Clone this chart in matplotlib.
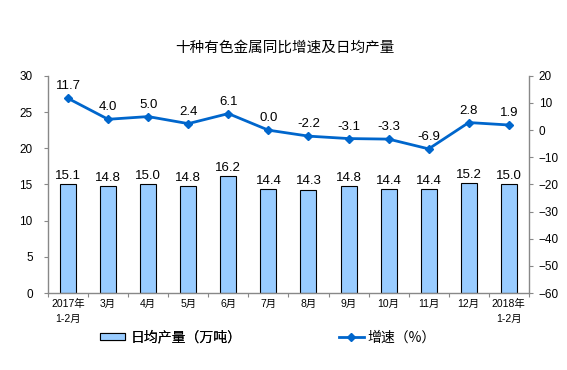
import matplotlib
matplotlib.use('Agg')
import matplotlib.pyplot as plt
import numpy as np

plt.rcParams['font.family'] = ['Liberation Sans', 'Noto Sans CJK SC', 'DejaVu Sans']

# data
months = ['2017年\n1-2月', '3月', '4月', '5月', '6月', '7月', '8月', '9月',
          '10月', '11月', '12月', '2018年\n1-2月']
daily_output = [15.1, 14.8, 15.0, 14.8, 16.2, 14.4, 14.3, 14.8, 14.4, 14.4, 15.2, 15.0]
growth = [11.7, 4.0, 5.0, 2.4, 6.1, 0.0, -2.2, -3.1, -3.3, -6.9, 2.8, 1.9]

bar_color = '#99CCFF'
line_color = '#0066CC'
cjk = ['Noto Sans CJK SC', 'DejaVu Sans']

fig = plt.figure(figsize=(5.67, 3.70), dpi=100)
ax = fig.add_axes([0.0847, 0.208, 0.848, 0.587])
ax2 = ax.twinx()

x = np.arange(len(months))

# bars for daily output
bars = ax.bar(x, daily_output, width=0.4, color=bar_color, edgecolor='black',
              linewidth=0.8, label='日均产量（万吨）', zorder=2)
for xi, v in zip(x, daily_output):
    ax.text(xi, v + 0.3, '%.1f' % v, ha='center', va='bottom', fontsize=9.5)

# growth line on right axis
line, = ax2.plot(x, growth, color=line_color, linewidth=2, marker='D',
                 markersize=4.5, label='增速（%）', zorder=3)
for xi, v in zip(x, growth):
    ax2.text(xi, v + 2.2, '%.1f' % v, ha='center', va='bottom', fontsize=9.5)

ax.set_xlim(-0.5, len(months) - 0.5)
ax.set_ylim(0, 30)
ax.set_yticks(range(0, 31, 5))
ax2.set_ylim(-60, 20)
ax2.set_yticks(range(-60, 21, 10))

ax.set_xticks(np.arange(len(months) + 1) - 0.5, minor=False)
ax.set_xticklabels([])
ax.set_xticks(x, minor=True)
ax.set_xticklabels(months, minor=True, fontsize=7.5, linespacing=1.6)
ax.tick_params(axis='x', which='major', length=3, direction='out', color='#888888')
ax.tick_params(axis='x', which='minor', length=0, pad=4)

for a in (ax, ax2):
    for s in a.spines.values():
        s.set_visible(False)
ax.spines['left'].set_visible(True)
ax.spines['bottom'].set_visible(True)
ax2.spines['right'].set_visible(True)
for s in (ax.spines['left'], ax.spines['bottom'], ax2.spines['right']):
    s.set_color('#888888')
    s.set_linewidth(1)

ax.tick_params(axis='y', length=3, color='#888888', labelsize=8.5, pad=8)
ax2.tick_params(axis='y', length=3, color='#888888', labelsize=8.5, pad=4)

fig.text(0.503, 0.872, '十种有色金属同比增速及日均产量', ha='center', va='center',
         fontsize=10.5, family=cjk)

# two legend entries placed separately, as in the reference
leg1 = fig.legend(handles=[bars], loc='center left', bbox_to_anchor=(0.165, 0.088),
                  frameon=False, handlelength=1.8, handleheight=0.5,
                  handletextpad=0.4, borderpad=0, prop={'family': cjk, 'size': 10})
leg2 = fig.legend(handles=[line], loc='center left', bbox_to_anchor=(0.585, 0.088),
                  frameon=False, handlelength=1.8, handletextpad=0.3, borderpad=0,
                  prop={'family': cjk, 'size': 10})
fig.add_artist(leg1)

fig.savefig('out.png', dpi=100)
